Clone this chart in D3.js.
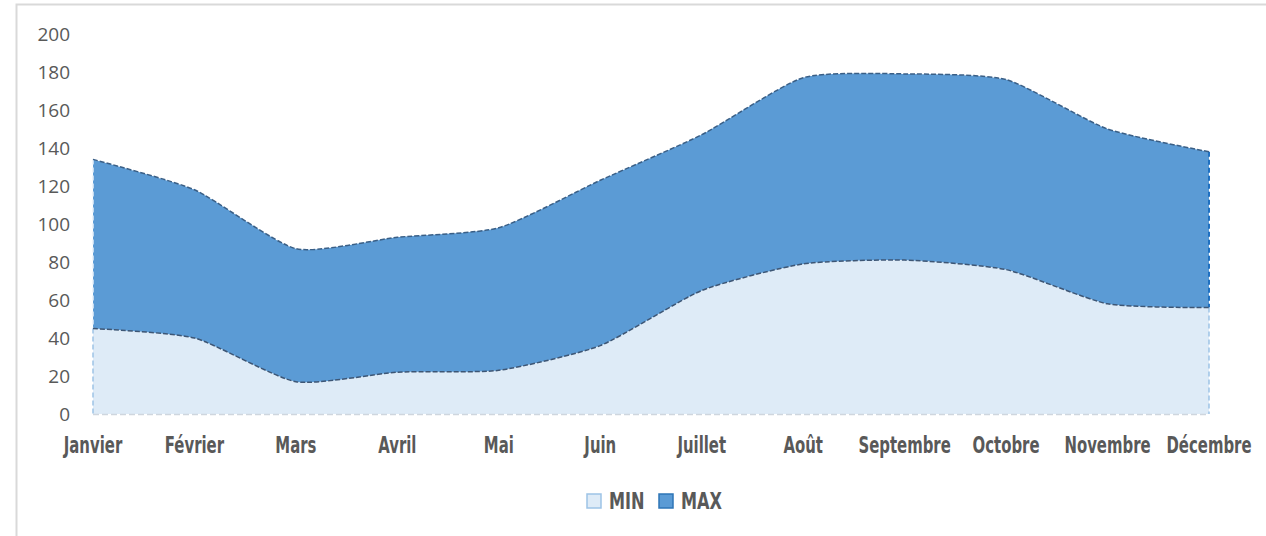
<!DOCTYPE html>
<html>
<head>
<meta charset="utf-8">
<script src="https://cdn.jsdelivr.net/npm/d3@7"></script>
<style>
  body { margin: 0; background: #fff; }
  svg { display: block; }
</style>
</head>
<body>
<div id="chart"></div>
<script>
// Data
const months = ["Janvier", "Février", "Mars", "Avril", "Mai", "Juin", "Juillet", "Août", "Septembre", "Octobre", "Novembre", "Décembre"];
const minValues = [45, 40, 17, 22, 23, 36, 65, 79, 81, 76, 58, 56];
const maxValues = [134, 118, 87, 93, 98, 123, 147, 177, 179, 176, 150, 138];
const yTicks = [0, 20, 40, 60, 80, 100, 120, 140, 160, 180, 200];
const seriesNames = ["MIN", "MAX"];

const width = 1266, height = 536;
const LABEL_SQUEEZE = 0.72; // narrow the bold labels (condensed look)
const labelFont = "'DejaVu Sans Condensed', 'DejaVu Sans', sans-serif";

const svg = d3.select("#chart").append("svg")
  .attr("width", width)
  .attr("height", height);

// Chart frame (left + top border)
svg.append("path")
  .attr("d", `M16.5,${height} V4.5 H${width}`)
  .attr("fill", "none")
  .attr("stroke", "#d9d9d9")
  .attr("stroke-width", 2);

const x = d3.scalePoint().domain(months).range([93, 1209]);
const y = d3.scaleLinear().domain([0, 200]).range([414, 34]);

const curve = d3.curveCardinal.tension(0.4);

const rows = months.map((m, i) => ({ m, min: minValues[i], max: maxValues[i] }));

const areaMax = d3.area().x(d => x(d.m)).y0(y(0)).y1(d => y(d.max)).curve(curve);
const areaMin = d3.area().x(d => x(d.m)).y0(y(0)).y1(d => y(d.min)).curve(curve);
const lineMax = d3.line().x(d => x(d.m)).y(d => y(d.max)).curve(curve);
const lineMin = d3.line().x(d => x(d.m)).y(d => y(d.min)).curve(curve);

// MAX area (behind)
svg.append("path").attr("d", areaMax(rows)).attr("fill", "#5b9bd5");
// MIN area (front)
svg.append("path").attr("d", areaMin(rows)).attr("fill", "#deebf7");

// Dashed outlines
const x0 = x(months[0]), x1 = x(months[months.length - 1]);
const last = rows[rows.length - 1], first = rows[0];

// MAX left / right edges
svg.append("line")
  .attr("x1", x0).attr("x2", x0).attr("y1", y(first.max)).attr("y2", y(first.min))
  .attr("stroke", "#e8f1fa").attr("stroke-width", 1.5).attr("stroke-dasharray", "5,3");
svg.append("line")
  .attr("x1", x1).attr("x2", x1).attr("y1", y(last.max)).attr("y2", y(last.min))
  .attr("stroke", "#1f70c1").attr("stroke-width", 2).attr("stroke-dasharray", "5,3");

// MIN left / right edges
svg.append("line")
  .attr("x1", x0).attr("x2", x0).attr("y1", y(first.min)).attr("y2", y(0))
  .attr("stroke", "#9dc3e6").attr("stroke-width", 1.5).attr("stroke-dasharray", "5,3");
svg.append("line")
  .attr("x1", x1).attr("x2", x1).attr("y1", y(last.min)).attr("y2", y(0))
  .attr("stroke", "#9dc3e6").attr("stroke-width", 1.5).attr("stroke-dasharray", "5,3");

// Baseline
svg.append("line")
  .attr("x1", x0).attr("x2", x1).attr("y1", y(0) + 0.5).attr("y2", y(0) + 0.5)
  .attr("stroke", "#cfd6de").attr("stroke-width", 1.5).attr("stroke-dasharray", "6,3");

// Top lines
svg.append("path").attr("d", lineMax(rows))
  .attr("fill", "none").attr("stroke", "#3a5f86").attr("stroke-width", 1.5).attr("stroke-dasharray", "5,2");
svg.append("path").attr("d", lineMin(rows))
  .attr("fill", "none").attr("stroke", "#3d5675").attr("stroke-width", 1.5).attr("stroke-dasharray", "5,2");

// Y axis labels
svg.append("g")
  .selectAll("text")
  .data(yTicks)
  .join("text")
  .attr("x", 70)
  .attr("y", d => y(d))
  .attr("dy", "0.36em")
  .attr("text-anchor", "end")
  .attr("font-family", "'Open Sans', sans-serif")
  .attr("font-size", 19)
  .attr("fill", "#595959")
  .text(d => d);

// X axis labels (squeezed horizontally)
svg.append("g")
  .selectAll("text")
  .data(months)
  .join("text")
  .attr("transform", d => `translate(${x(d)},453) scale(${LABEL_SQUEEZE},1)`)
  .attr("text-anchor", "middle")
  .attr("font-family", labelFont)
  .attr("font-weight", "bold")
  .attr("font-size", 23)
  .attr("fill", "#595959")
  .text(d => d);

// Legend
const legend = svg.append("g");
const legendItems = [
  { name: seriesNames[0], x: 587, fill: "#deebf7", stroke: "#9dc3e6" },
  { name: seriesNames[1], x: 659, fill: "#5b9bd5", stroke: "#2e75b6" }
];
legendItems.forEach(it => {
  legend.append("rect")
    .attr("x", it.x).attr("y", 494)
    .attr("width", 14).attr("height", 14)
    .attr("fill", it.fill)
    .attr("stroke", it.stroke).attr("stroke-width", 1.5);
  legend.append("text")
    .attr("transform", `translate(${it.x + 22},509) scale(${LABEL_SQUEEZE + 0.06},1)`)
    .attr("font-family", labelFont)
    .attr("font-weight", "bold")
    .attr("font-size", 23)
    .attr("fill", "#595959")
    .text(it.name);
});
</script>
</body>
</html>
